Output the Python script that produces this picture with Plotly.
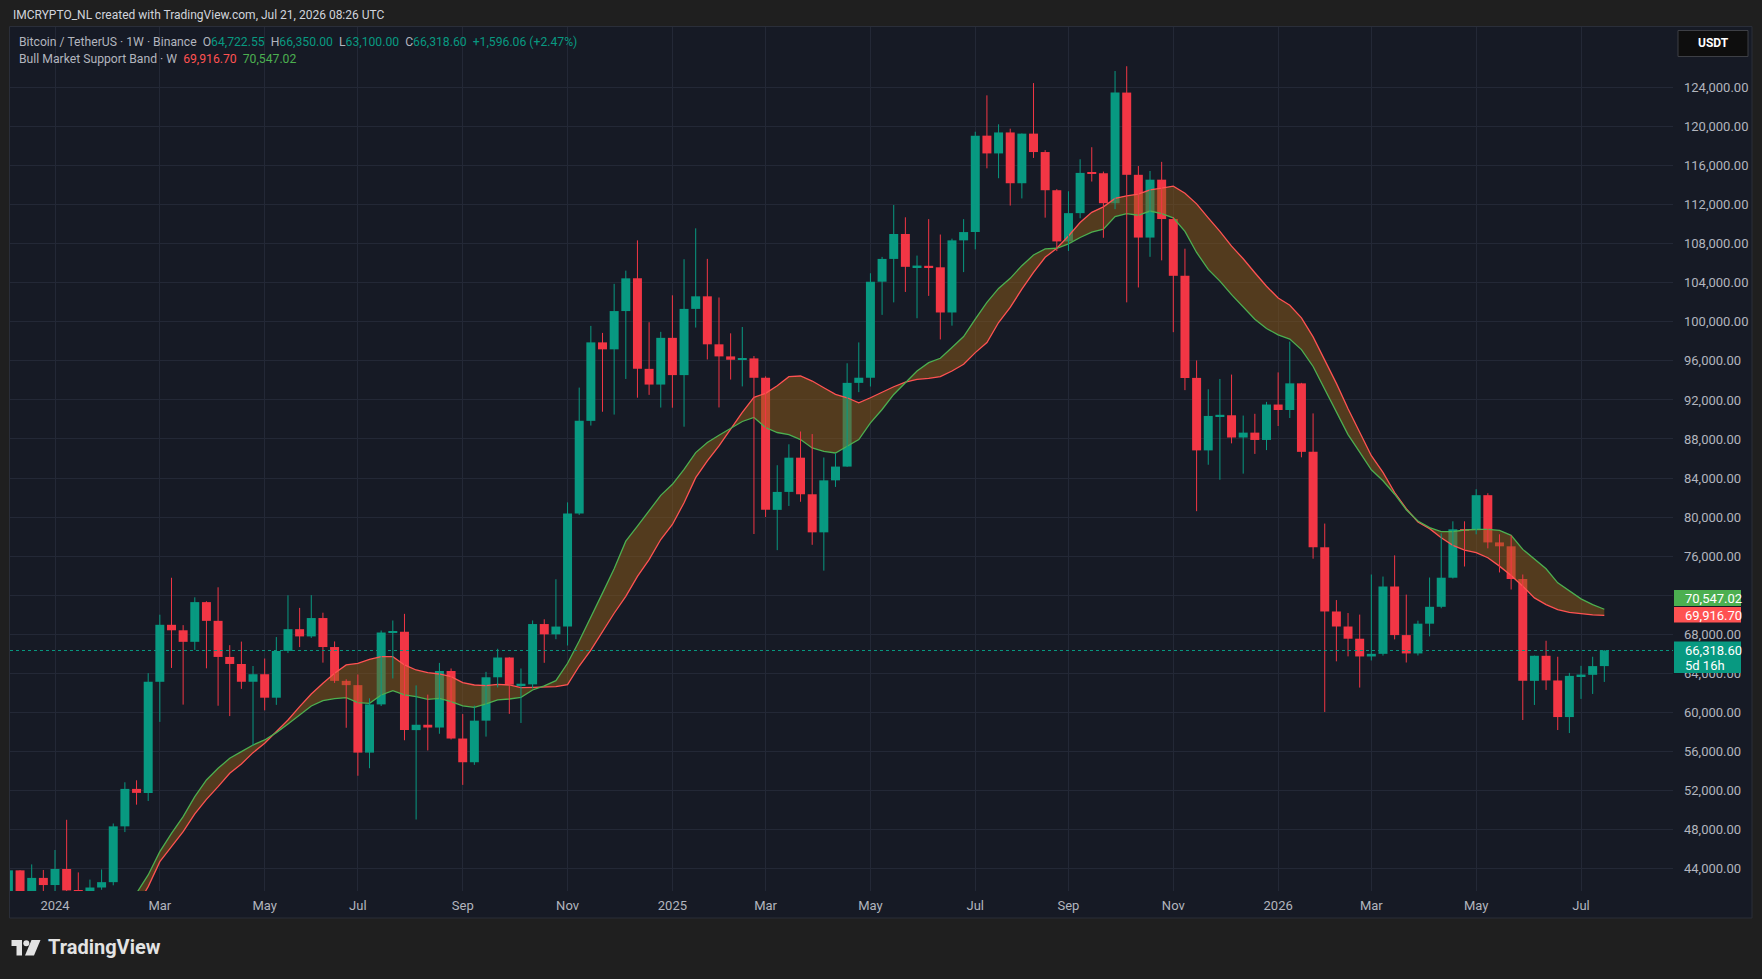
import plotly.graph_objects as go
import pandas as pd

# ---------------- data ----------------
start_week = "2023-12-04"
n_weeks = 138
dates = pd.date_range(start_week, periods=n_weeks, freq="7D")

opens = [39972, 43790, 41364, 43016, 42283, 43929, 41732, 41580, 42031, 42580,
         48299, 52137, 51728, 63113, 68955, 68393, 67210, 71280, 69360, 65661,
         64941, 63118, 63890, 61484, 66274, 68507, 67766, 69648, 66676, 63210,
         62772, 55857, 60797, 68165, 68249, 58161, 58712, 58427, 64220, 57301,
         54869, 59132, 63578, 65602, 62819, 62850, 69032, 67977, 68775, 80370,
         89855, 97900, 97185, 101109, 104463, 95186, 93576, 98363, 94545, 101331,
         102620, 97700, 96462, 96118, 96258, 94270, 80734, 82574, 86082, 82334,
         78430, 83760, 85170, 93749, 94277, 104118, 106454, 109004, 105642, 105734,
         105594, 100963, 108356, 109203, 119086, 117265, 119415, 114208, 119294, 117405,
         113492, 108246, 111144, 115268, 115232, 112163, 123500, 115073, 108642, 114574,
         110540, 104722, 94261, 86830, 90360, 90429, 88150, 88650, 87900, 91530,
         90970, 93700, 86680, 76900, 70320, 68780, 67530, 65710, 65980, 72880,
         67900, 66020, 69070, 70800, 73780, 78740, 78640, 82240, 77400, 77000,
         73650, 63210, 65780, 63250, 59500, 63720, 63830, 64722.55]
highs = [44700, 43810, 44400, 43828, 45879, 48969, 43578, 42842, 43882, 48592,
         52816, 53019, 64000, 69990, 73777, 68920, 71769, 71366, 72797, 66867,
         67233, 64734, 65500, 67700, 71979, 70687, 71997, 70195, 67250, 63369,
         63861, 61420, 68366, 69399, 70079, 62745, 61800, 65050, 64481, 59809,
         60670, 64133, 66498, 65630, 64478, 69400, 69519, 73620, 81500, 93265,
         99588, 98871, 103900, 105250, 108353, 99963, 98976, 102724, 106422, 109588,
         106457, 102500, 98826, 99475, 96500, 94416, 85309, 87453, 88765, 88500,
         86100, 86496, 95758, 97895, 104984, 106660, 111980, 110718, 106794, 110530,
         108952, 108528, 110530, 119488, 123218, 120247, 119800, 119311, 124474, 117600,
         113600, 113384, 116665, 117900, 115400, 125708, 126199, 115970, 115466, 116400,
         110750, 107500, 96043, 93092, 94150, 94600, 90400, 90580, 91800, 94820,
         97980, 93750, 90620, 79330, 71490, 70160, 70000, 74110, 73900, 76070,
         72050, 69380, 73800, 78330, 79560, 79560, 82850, 82440, 78230, 78120,
         74110, 65800, 67320, 65680, 64030, 64750, 65680, 66350.00]
lows = [39700, 40222, 40520, 41300, 40750, 41500, 40280, 38555, 41800, 42258,
        47710, 50521, 50901, 59005, 64533, 60775, 66385, 64493, 60660, 59600,
        62391, 56552, 60187, 60749, 66060, 66670, 67612, 65078, 63000, 58402,
        53485, 54260, 60632, 63456, 57122, 49000, 56078, 57787, 57201, 52550,
        54600, 57493, 62538, 59828, 58895, 62450, 65060, 67478, 66835, 80216,
        89376, 90791, 90500, 94150, 92232, 92520, 91220, 91203, 89256, 99419,
        96150, 91231, 94088, 93388, 78258, 80000, 76606, 81134, 81565, 77153,
        74508, 83087, 85144, 92800, 93377, 100718, 102000, 103068, 100372, 102664,
        98200, 99613, 105100, 107429, 115736, 114723, 111920, 112650, 116803, 110680,
        107255, 107270, 110620, 114384, 108620, 111550, 102000, 103528, 106666, 106304,
        98944, 93005, 80600, 85360, 83822, 87550, 84450, 86470, 86860, 89330,
        90150, 86120, 75730, 60020, 65210, 65720, 62520, 65300, 65800, 67460,
        65090, 65810, 67770, 70650, 73700, 74930, 78230, 76790, 74320, 72570,
        59200, 60740, 62280, 58170, 57860, 61360, 61870, 63100.00]
closes = [43790, 41364, 43016, 42283, 43929, 41732, 41580, 42031, 42580, 48299,
          52137, 51728, 63113, 68955, 68393, 67210, 71280, 69360, 65661, 64941,
          63118, 63890, 61484, 66274, 68507, 67766, 69648, 66676, 63210, 62772,
          55857, 60797, 68165, 68249, 58161, 58712, 58427, 64220, 57301, 54869,
          59132, 63578, 65602, 62819, 62850, 69032, 67977, 68775, 80370, 89855,
          97900, 97185, 101109, 104463, 95186, 93576, 98363, 94545, 101331, 102620,
          97700, 96462, 96118, 96258, 94270, 80734, 82574, 86082, 82334, 78430,
          83760, 85170, 93749, 94277, 104118, 106454, 109004, 105642, 105734, 105594,
          100963, 108356, 109203, 119086, 117265, 119415, 114208, 119294, 117405, 113492,
          108246, 111144, 115268, 115232, 112163, 123500, 115073, 108642, 114574, 110540,
          104722, 94261, 86830, 90360, 90429, 88150, 88650, 87900, 91530, 90970,
          93700, 86680, 76900, 70320, 68780, 67530, 65710, 65980, 72880, 67900,
          66020, 69070, 70800, 73780, 78740, 78640, 82240, 77400, 77000, 73650,
          63210, 65780, 63250, 59500, 63720, 63830, 64722.55, 66318.60]

# Bull Market Support Band (starts at week index 10 = 2024-02-12)
band_start = 10
sma20 = [38900, 40050, 42121, 44683, 46220, 47758, 49568, 51071, 52369, 53736,
         54692, 55854, 56810, 58006, 59201, 60568, 61866, 62959, 63984, 64838,
         65008, 65418, 65692, 65692, 64838, 64325, 64052, 63915, 63642, 63027,
         62788, 62720, 62856, 62788, 62515, 62543, 62580, 62611, 62816, 64732,
         66372, 68247, 70140, 71869, 73925, 75639, 77695, 79237, 81465, 84035,
         85749, 87291, 89005, 90719, 92261, 92672, 93460, 94382, 94451, 93936,
         93251, 92565, 92222, 91708, 92222, 92805, 93354, 93834, 94108, 94211,
         94382, 94965, 95650, 96850, 97879, 99935, 101478, 103363, 105077, 106620,
         107546, 108800, 110180, 111229, 111792, 112658, 112918, 113091, 113524, 113697,
         113913, 113178, 112095, 110667, 109281, 107766, 106467, 105039, 103654, 102442,
         101706, 100407, 98459, 96078, 93697, 91090, 88750, 86284, 84570, 82512,
         80850, 79495, 78809, 77883, 77095, 76615, 76340, 75826, 74968, 74008,
         72911, 71711, 71025, 70511, 70237, 70066, 69963, 69916.70]
ema21 = [40600, 41450, 43317, 45708, 47587, 49295, 51344, 53052, 54248, 55273,
         55956, 56639, 57152, 57903, 58791, 59714, 60636, 61182, 61387, 61490,
         60978, 60909, 61763, 62207, 61763, 61592, 61319, 61422, 61080, 60636,
         60499, 60841, 61251, 61353, 61524, 62272, 62700, 63226, 65010, 67300,
         69700, 72200, 74700, 77524, 79066, 80608, 82219, 83350, 84892, 86606,
         87634, 88388, 89073, 89793, 90204, 89176, 88662, 88452, 87937, 87080,
         86738, 86566, 87252, 87937, 89651, 91022, 92565, 93765, 94965, 95822,
         96267, 97364, 98496, 100278, 101992, 103432, 104460, 105763, 106860, 107477,
         107546, 108000, 108650, 109195, 109498, 110797, 111100, 110927, 111359, 111100,
         110667, 109281, 107117, 105385, 104173, 102788, 101489, 100277, 99325, 98675,
         98242, 97160, 95428, 93047, 90753, 88450, 86650, 84843, 83712, 82340,
         80750, 79598, 78912, 78500, 78500, 78672, 78740, 78740, 78637, 78123,
         76683, 75654, 74694, 73254, 72397, 71608, 71025, 70547.02]

tick_dates = ["2024-01-01", "2024-03-04", "2024-05-06", "2024-07-01", "2024-09-02",
              "2024-11-04", "2025-01-06", "2025-03-03", "2025-05-05", "2025-07-07",
              "2025-09-01", "2025-11-03", "2026-01-05", "2026-03-02", "2026-05-04",
              "2026-07-06"]
tick_labels = ["2024", "Mar", "May", "Jul", "Sep", "Nov", "2025", "Mar", "May",
               "Jul", "Sep", "Nov", "2026", "Mar", "May", "Jul"]
price_ticks = list(range(44000, 124001, 4000))

last_close = 66318.60
sma_last = 69916.70
ema_last = 70547.02

# ---------------- styling ----------------
W, H = 1762, 979
PL, PR, PT, PB = 10, 1673, 27, 891   # plot area in pixels
UP, DOWN = "#089981", "#f23645"
BG = "#161a25"
OUTER = "#1f1f1f"
GRID = "#232836"
AXT = "#b2b5be"
FONT = "Roboto"

def px(x):
    return (x - PL) / (PR - PL)

def py(y):
    return (PB - y) / (PB - PT)

week_px = 11.649
ref = pd.Timestamp("2024-01-01")
x0 = ref + pd.Timedelta(days=7 * (PL - 55) / week_px)
x1 = ref + pd.Timedelta(days=7 * (PR - 55) / week_px)
y_per_px = 4000 / 39.03
y0 = 44000 - (PB - 868.3) * y_per_px
y1 = 44000 + (868.3 - PT) * y_per_px

fig = go.Figure()

# band fill + lines
bd = dates[band_start:]
fig.add_trace(go.Scatter(x=bd, y=sma20, mode="lines", line=dict(width=0, color=BG),
                         hoverinfo="skip", showlegend=False))
fig.add_trace(go.Scatter(x=bd, y=ema21, mode="lines", line=dict(width=0, color=BG),
                         fill="tonexty", fillcolor="rgba(144,92,23,0.5)",
                         hoverinfo="skip", showlegend=False))
fig.add_trace(go.Scatter(x=bd, y=sma20, mode="lines", line=dict(width=1.3, color="#ff5252"),
                         hoverinfo="skip", showlegend=False))
fig.add_trace(go.Scatter(x=bd, y=ema21, mode="lines", line=dict(width=1.3, color="#4caf50"),
                         hoverinfo="skip", showlegend=False))

# candles
minh = 1.6 * y_per_px
bw = 5.4 * 86400000
groups = {True: dict(x=[], base=[], h=[], wx=[], wy=[]), False: dict(x=[], base=[], h=[], wx=[], wy=[])}
for d, o, hi, lo, c in zip(dates, opens, highs, lows, closes):
    up = c >= o
    g = groups[up]
    lo_b, hi_b = min(o, c), max(o, c)
    hgt = hi_b - lo_b
    if hgt < minh:
        mid = (hi_b + lo_b) / 2
        lo_b = mid - minh / 2
        hgt = minh
    g["x"].append(d)
    g["base"].append(lo_b)
    g["h"].append(hgt)
    g["wx"] += [d, d, None]
    g["wy"] += [lo, hi, None]

for up, col in ((True, UP), (False, DOWN)):
    g = groups[up]
    fig.add_trace(go.Scatter(x=g["wx"], y=g["wy"], mode="lines", line=dict(color=col, width=1),
                             hoverinfo="skip", showlegend=False, connectgaps=False))
    fig.add_trace(go.Bar(x=g["x"], y=g["h"], base=g["base"], width=[bw] * len(g["x"]),
                         marker=dict(color=col, line=dict(width=0)), showlegend=False,
                         hoverinfo="skip"))

shapes = []
# chart panel
shapes.append(dict(type="rect", xref="paper", yref="paper", x0=px(9.5), x1=px(1752),
                   y0=py(26.5), y1=py(918), fillcolor=BG, line=dict(color="#2a2e39", width=1),
                   layer="below"))
# current price dotted line
shapes.append(dict(type="line", xref="paper", yref="y", x0=0, x1=1, y0=last_close, y1=last_close,
                   line=dict(color=UP, width=1, dash="dot"), layer="above"))
# price label boxes
def box(y_top, y_bot, color):
    return dict(type="rect", xref="paper", yref="paper", x0=px(1674), x1=px(1741),
                y0=py(y_bot), y1=py(y_top), fillcolor=color, line=dict(width=0), layer="above")
shapes.append(box(590, 606, "#4caf50"))
shapes.append(box(607, 622.5, "#ff5252"))
shapes.append(box(641.5, 673, UP))
# USDT button
shapes.append(dict(type="rect", xref="paper", yref="paper", x0=px(1678), x1=px(1748),
                   y0=py(56.5), y1=py(30.5), fillcolor="#0e0e0e",
                   line=dict(color="#3d3f45", width=1), layer="above"))
# TradingView logo glyph
LOGO = "#e3e3e3"
shapes.append(dict(type="rect", xref="paper", yref="paper", x0=px(11.5), x1=px(22),
                   y0=py(946), y1=py(940), fillcolor=LOGO, line=dict(width=0), layer="above"))
shapes.append(dict(type="rect", xref="paper", yref="paper", x0=px(16.5), x1=px(22),
                   y0=py(955.5), y1=py(940), fillcolor=LOGO, line=dict(width=0), layer="above"))
shapes.append(dict(type="circle", xref="paper", yref="paper", x0=px(23.3), x1=px(29.3),
                   y0=py(946.2), y1=py(940.2), fillcolor=LOGO, line=dict(width=0), layer="above"))
shapes.append(dict(type="path", xref="paper", yref="paper",
                   path=f"M {px(31.5)},{py(940)} L {px(40.5)},{py(940)} L {px(34)},{py(955.5)} L {px(25)},{py(955.5)} Z",
                   fillcolor=LOGO, line=dict(width=0), layer="above"))

ann = []
def text(x, y, s, size=13, color="#d1d4dc", anchor="left", weight=None, family=FONT):
    f = dict(family=family, size=size, color=color)
    if weight:
        f["weight"] = weight
    ann.append(dict(x=px(x), y=py(y), xref="paper", yref="paper", text=s, showarrow=False,
                    xanchor=anchor, yanchor="middle", font=f))

text(11, 14.5, "IMCRYPTO_NL created with TradingView.com, Jul 21, 2026 08:26 UTC", 12, "#d1d4dc")
G = "#089981"
l1 = ("Bitcoin / TetherUS · 1W · Binance  "
      f"O<span style='color:{G}'>64,722.55</span>  H<span style='color:{G}'>66,350.00</span>  "
      f"L<span style='color:{G}'>63,100.00</span>  C<span style='color:{G}'>66,318.60</span>  "
      f"<span style='color:{G}'>+1,596.06 (+2.47%)</span>")
text(17, 41.5, l1, 12.2, "#b2b5be")
l2 = ("Bull Market Support Band · W  "
      f"<span style='color:#ff5252'>{sma_last:,.2f}</span>  <span style='color:#4caf50'>{ema_last:,.2f}</span>")
text(17, 58.5, l2, 12.2, "#b2b5be")
text(1683, 598, f"{ema_last:,.2f}", 13, "#ffffff")
text(1683, 615, f"{sma_last:,.2f}", 13, "#ffffff")
text(1683, 650, f"{last_close:,.2f}", 13, "#ffffff")
text(1683, 665, "5d 16h", 13, "#ffffff")
text(1713, 43.5, "USDT", 12, "#ffffff", anchor="center", weight="bold")
text(46, 947, "TradingView", 20, "#e3e3e3", weight="bold")

fig.update_layout(
    width=W, height=H, margin=dict(l=PL, r=W - PR, t=PT, b=H - PB, pad=0),
    paper_bgcolor=OUTER, plot_bgcolor=BG, barmode="overlay", showlegend=False,
    shapes=shapes, annotations=ann, font=dict(family=FONT, color=AXT, size=13),
    hovermode=False,
)
fig.update_xaxes(type="date", range=[x0, x1], tickvals=pd.to_datetime(tick_dates),
                 ticktext=tick_labels, showgrid=True, gridcolor=GRID, gridwidth=1,
                 zeroline=False, showline=False, ticks="", ticklabelstandoff=5,
                 tickfont=dict(family=FONT, size=13, color=AXT), fixedrange=True)
fig.update_yaxes(range=[y0, y1], side="right", tickvals=price_ticks,
                 ticktext=[f"{v:,.2f}" for v in price_ticks], showgrid=True, gridcolor=GRID,
                 gridwidth=1, zeroline=False, showline=False, ticks="", ticklabelstandoff=10,
                 tickfont=dict(family=FONT, size=13, color=AXT), fixedrange=True)

fig.write_html("out.html")
